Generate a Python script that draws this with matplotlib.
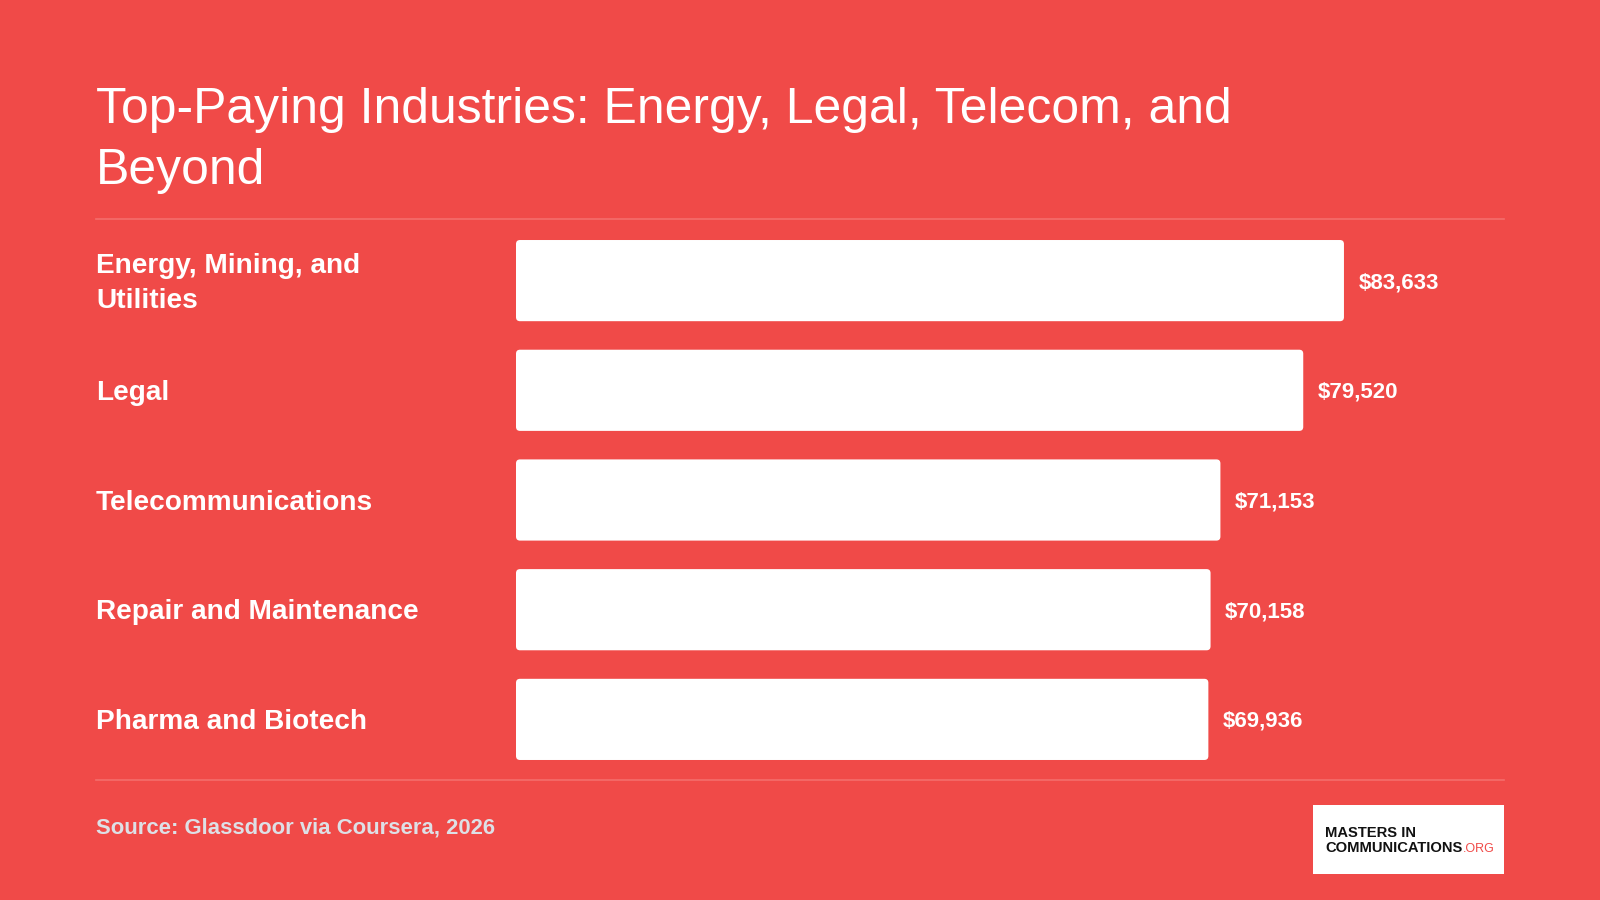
import matplotlib.pyplot as plt
import matplotlib.patches as mPatch
import matplotlib.transforms as mTrans

# Colours
BG_COLOUR = "#F04A48"
RULE_COLOUR = "#F46E6C"
BAR_COLOUR = "white"
SOURCE_COLOUR = "#DDE0E6"
FONT = "Liberation Sans"

# Data
industries = ["Energy, Mining, and\nUtilities", "Legal", "Telecommunications",
              "Repair and Maintenance", "Pharma and Biotech"]
salaries = [83633, 79520, 71153, 70158, 69936]

title = "Top-Paying Industries: Energy, Legal, Telecom, and\nBeyond"
source = "Source: Glassdoor via Coursera, 2026"

W, H = 1600, 900
fig = plt.figure(figsize=(16, 9), dpi=100, facecolor=BG_COLOUR)

# bar area (pixel positions)
ax_left, ax_right = 516, 1506
ax_top, ax_bottom = 225.75, 774.25
ax = fig.add_axes([ax_left / W, 1 - ax_bottom / H, (ax_right - ax_left) / W, (ax_bottom - ax_top) / H])
ax.set_facecolor("none")
ax.set_xlim(0, 100000)
ax.set_ylim(len(salaries) - 0.5, -0.5)
ax.axis("off")

bar_h = 0.74
bars = ax.barh(range(len(salaries)), salaries, height=bar_h, color=BAR_COLOUR)

# swap plain bars for rounded ones
x_per_px = 100000 / (ax_right - ax_left)
y_per_px = len(salaries) / (ax_bottom - ax_top)
for bar in bars:
    x, y = bar.get_x(), bar.get_y()
    w, h = bar.get_width(), bar.get_height()
    bar.set_visible(False)
    rounded = mPatch.FancyBboxPatch((x, y), w, h,
                                    boxstyle="round,pad=0,rounding_size=%f" % (4 * x_per_px),
                                    mutation_aspect=y_per_px / x_per_px,
                                    facecolor=BAR_COLOUR, edgecolor="none")
    ax.add_patch(rounded)

# value labels
for i, v in enumerate(salaries):
    ax.annotate("${:,}".format(v), xy=(v, i), xytext=(10.5, -1.5), textcoords="offset points",
                va="center", ha="left", color="white", fontsize=16, fontweight="bold", family=FONT)

# category labels
label_trans = mTrans.offset_copy(mTrans.blended_transform_factory(fig.transFigure, ax.transData),
                                 fig=fig, x=0, y=-2.5, units="dots")
for i, name in enumerate(industries):
    ax.text(96 / W, i, name, transform=label_trans, va="center", ha="left", color="white",
            fontsize=20.2, fontweight="bold", family=FONT, linespacing=1.44)

# title
fig.text(96 / W, 1 - 87 / H, title, va="top", ha="left", color="white",
         fontsize=35.9, family=FONT, linespacing=1.41)

# rules
for y in [219, 780]:
    fig.add_artist(plt.Line2D([96 / W, 1504 / W], [1 - y / H, 1 - y / H], color=RULE_COLOUR, linewidth=1.2))

# source
fig.text(96 / W, 1 - 828 / H, source, va="center", ha="left", color=SOURCE_COLOUR,
         fontsize=15.9, fontweight="bold", family=FONT)

# logo
fig.add_artist(mPatch.Rectangle((1313 / W, 1 - 874 / H), 191 / W, 69 / H, transform=fig.transFigure,
                                facecolor="white", edgecolor="none", zorder=1))
fig.text(1325 / W, 1 - 837 / H, "MASTERS IN", va="baseline", ha="left", color="#111111",
         fontsize=10.6, fontweight="bold", family=FONT, zorder=5)
comm = fig.text(1325 / W, 1 - 852 / H, "COMMUNICATIONS", va="baseline", ha="left", color="#111111",
                fontsize=10.6, fontweight="bold", family=FONT, zorder=5)
fig.canvas.draw()
comm_box = comm.get_window_extent()
fig.text(comm_box.x1 / W, 1 - 852 / H, ".ORG", va="baseline", ha="left", color="#F04A48",
         fontsize=9, family=FONT, zorder=5)

fig.savefig("out.png", dpi=100, facecolor=BG_COLOUR)
